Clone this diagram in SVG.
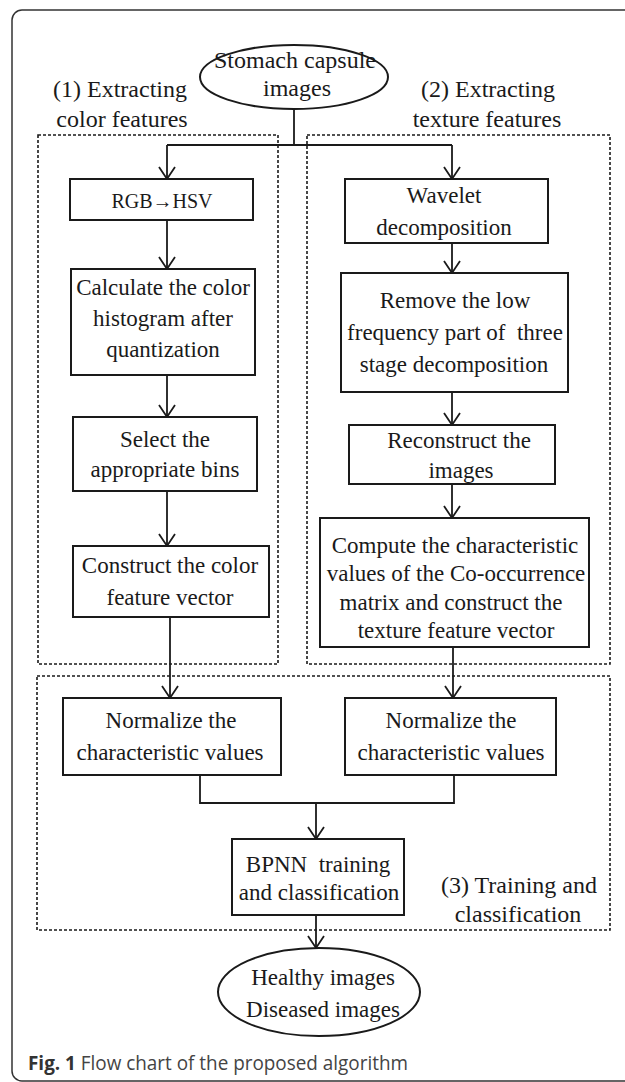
<svg xmlns="http://www.w3.org/2000/svg" width="625" height="1082" viewBox="0 0 625 1082">
<style>
  .box { fill: #fff; stroke: #1a1a1a; stroke-width: 2; }
  .ell { fill: #fff; stroke: #1a1a1a; stroke-width: 2; }
  .grp { fill: none; stroke: #1a1a1a; stroke-width: 1.6; stroke-dasharray: 3 2; }
  .t { font-family: "Liberation Serif", "Times New Roman", serif; font-size: 23px; fill: #1a1a1a; text-anchor: middle; }
  .big { font-size: 24px; }
  .small { font-size: 20px; }
  .con { fill: none; stroke: #1a1a1a; stroke-width: 1.8; }
  .arr { marker-end: url(#ah); }
  .frame { fill: none; stroke: #333; stroke-width: 1.5; }
  .cap { font-family: "Open Sans", "Noto Sans", "Liberation Sans", sans-serif; font-size: 20px; fill: #444; }
</style>
<defs>
  <marker id="ah" markerUnits="userSpaceOnUse" viewBox="-15 -15 30 30" markerWidth="30" markerHeight="30" refX="0" refY="0" orient="auto" overflow="visible">
    <path d="M-12,-8 L0,0 L-12,8" fill="none" stroke="#1a1a1a" stroke-width="1.8"/>
  </marker>
</defs>
<rect width="625" height="1082" fill="#fff"/>
<path class="frame" d="M626,10 H22 A10,10 0 0 0 12,20 V1071 A10,10 0 0 0 22,1081 H626"/>

<g id="groups">
  <rect class="grp" x="38" y="135" width="240" height="529"/>
  <rect class="grp" x="307" y="135" width="303" height="529"/>
  <rect class="grp" x="37" y="676" width="573" height="254"/>
</g>

<g id="labels">
  <text class="t big" x="120" y="97">(1) Extracting</text>
  <text class="t big" x="122" y="127">color features</text>
  <text class="t big" x="488" y="97">(2) Extracting</text>
  <text class="t big" x="487" y="127">texture features</text>
  <text class="t big" x="519" y="893">(3) Training and</text>
  <text class="t big" x="518" y="922">classification</text>
</g>

<g id="connectors">
  <path class="con" d="M294,108 V145"/>
  <path class="con" d="M167,145 H452"/>
  <path class="con arr" d="M167,145 V179"/>
  <path class="con arr" d="M452,145 V179"/>
  <path class="con arr" d="M167,220 V269"/>
  <path class="con arr" d="M167,375 V417"/>
  <path class="con arr" d="M167,491 V546"/>
  <path class="con arr" d="M170,617 V698"/>
  <path class="con arr" d="M452,243 V273"/>
  <path class="con arr" d="M452,392 V425"/>
  <path class="con arr" d="M452,484 V518"/>
  <path class="con arr" d="M453,647 V698"/>
  <path class="con" d="M200,775 V803 H454 V775"/>
  <path class="con arr" d="M316,803 V839"/>
  <path class="con arr" d="M316,915 V948"/>
</g>

<g id="start">
  <ellipse class="ell" cx="294" cy="77" rx="94" ry="32"/>
  <text class="t big" x="295" y="68">Stomach capsule</text>
  <text class="t big" x="297" y="96">images</text>
</g>

<g id="rgb2hsv">
  <rect class="box" x="70" y="179" width="183" height="41"/>
  <text class="t small" x="162" y="208">RGB→HSV</text>
</g>

<g id="histogram">
  <rect class="box" x="71" y="269" width="184" height="106"/>
  <text class="t" x="163" y="295">Calculate the color</text>
  <text class="t" x="163" y="326">histogram after</text>
  <text class="t" x="163" y="357">quantization</text>
</g>

<g id="selectbins">
  <rect class="box" x="73" y="417" width="184" height="74"/>
  <text class="t" x="165" y="447">Select the</text>
  <text class="t" x="165" y="477">appropriate bins</text>
</g>

<g id="colorvector">
  <rect class="box" x="73" y="546" width="196" height="71"/>
  <text class="t" x="170" y="573">Construct the color</text>
  <text class="t" x="170" y="605">feature vector</text>
</g>

<g id="wavelet">
  <rect class="box" x="345" y="179" width="203" height="64"/>
  <text class="t" x="444" y="203">Wavelet</text>
  <text class="t" x="444" y="235">decomposition</text>
</g>

<g id="removelow">
  <rect class="box" x="341" y="273" width="227" height="119"/>
  <text class="t" x="455" y="308">Remove the low</text>
  <text class="t" x="455" y="340" xml:space="preserve">frequency part of  three</text>
  <text class="t" x="454" y="372">stage decomposition</text>
</g>

<g id="reconstruct">
  <rect class="box" x="349" y="425" width="206" height="59"/>
  <text class="t" x="459" y="448">Reconstruct the</text>
  <text class="t" x="461" y="478">images</text>
</g>

<g id="cooccurrence">
  <rect class="box" x="320" y="518" width="269" height="129"/>
  <text class="t" x="455" y="553">Compute the characteristic</text>
  <text class="t" x="456" y="581">values of the Co-occurrence</text>
  <text class="t" x="451" y="610">matrix and construct the</text>
  <text class="t" x="456" y="638">texture feature vector</text>
</g>

<g id="normleft">
  <rect class="box" x="63" y="698" width="218" height="77"/>
  <text class="t" x="171" y="728">Normalize the</text>
  <text class="t" x="170" y="760">characteristic values</text>
</g>

<g id="normright">
  <rect class="box" x="345" y="698" width="211" height="77"/>
  <text class="t" x="451" y="728">Normalize the</text>
  <text class="t" x="451" y="760">characteristic values</text>
</g>

<g id="bpnn">
  <rect class="box" x="232" y="839" width="172" height="76"/>
  <text class="t" x="318" y="872" xml:space="preserve">BPNN  training</text>
  <text class="t" x="319" y="900">and classification</text>
</g>

<g id="result">
  <ellipse class="ell" cx="319" cy="992" rx="101" ry="44"/>
  <text class="t" x="323" y="985">Healthy images</text>
  <text class="t" x="323" y="1017">Diseased images</text>
</g>

<g id="caption">
  <text class="cap" x="28" y="1070" textLength="380" lengthAdjust="spacingAndGlyphs"><tspan font-weight="bold" fill="#333">Fig. 1</tspan> Flow chart of the proposed algorithm</text>
</g>
</svg>
